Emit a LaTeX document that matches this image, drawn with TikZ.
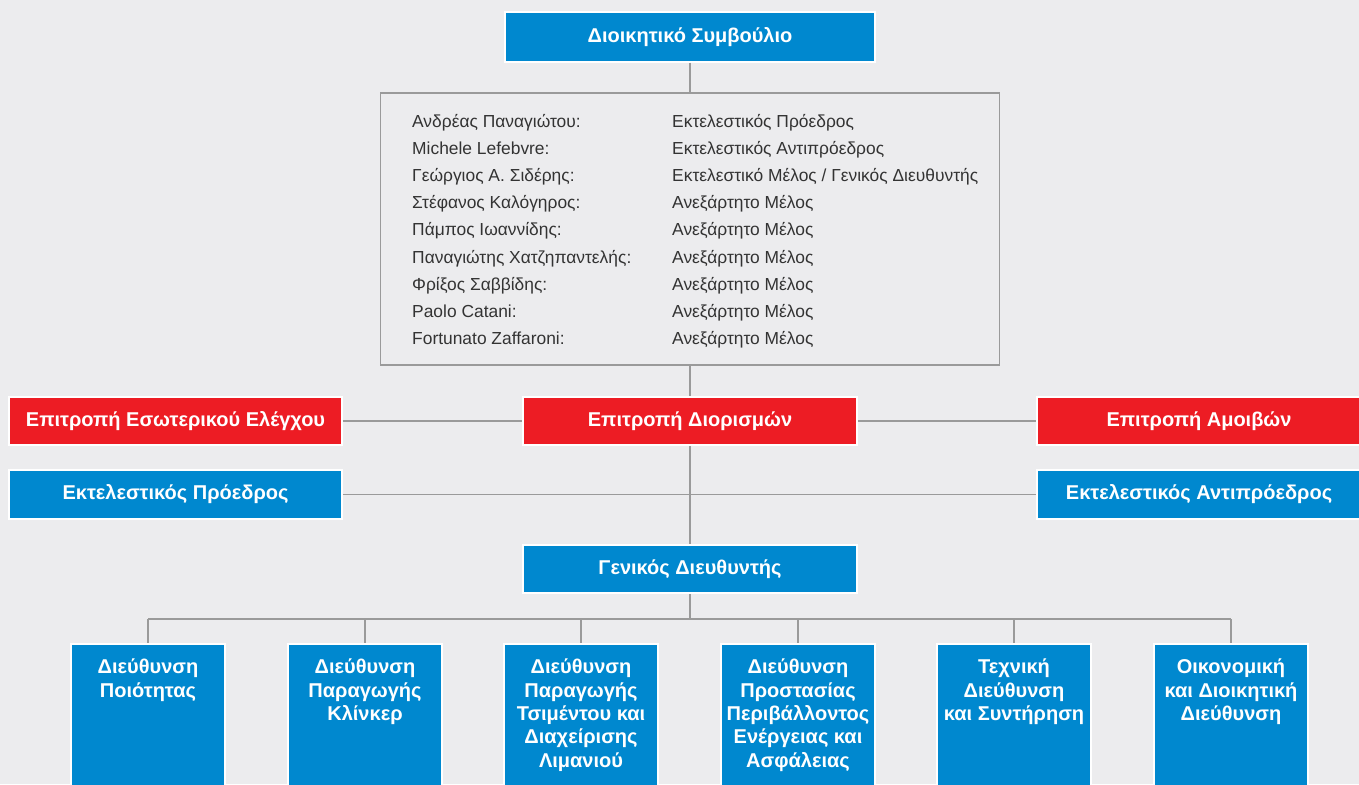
\documentclass[tikz,border=0pt]{standalone}
\usepackage{fontspec}
\setmainfont{Liberation Sans}
\definecolor{bgc}{HTML}{ECECEE}
\definecolor{blu}{HTML}{0088CF}
\definecolor{rd}{HTML}{ED1C24}
\definecolor{ln}{HTML}{9A9A9A}
\tikzset{
  box/.style={draw=white, line width=1.5pt, inner sep=0pt, text=white,
    font=\fontsize{20}{23.3}\selectfont\bfseries, align=center},
  bluebox/.style={box, fill=blu},
  redbox/.style={box, fill=rd},
  conn/.style={draw=ln, line width=1.6pt},
  member/.style={inner sep=0pt, font=\fontsize{17.4}{20}\selectfont, text=black!80},
  btext/.style={inner sep=0pt, text=white, font=\fontsize{20}{23.3}\selectfont\bfseries, align=center, anchor=north}
}
\begin{document}
\begin{tikzpicture}[x=1pt,y=-1pt]
\fill[bgc] (0,0) rectangle (1359,784);
\useasboundingbox (0,0) rectangle (1359,784);
\clip (0,0) rectangle (1359,784);

\node[bluebox, minimum width=370, minimum height=50] (top) at (690,37) {Διοικητικό Συμβούλιο};
\node[draw=ln, line width=1.6pt, minimum width=619, minimum height=272, inner sep=0pt] (members) at (690,229) {};

\foreach \i/\l/\r in {0/{Ανδρέας Παναγιώτου:}/{Εκτελεστικός Πρόεδρος},
  1/{Michele Lefebvre:}/{Εκτελεστικός Αντιπρόεδρος},
  2/{Γεώργιος Α. Σιδέρης:}/{Εκτελεστικό Μέλος / Γενικός Διευθυντής},
  3/{Στέφανος Καλόγηρος:}/{Ανεξάρτητο Μέλος},
  4/{Πάμπος Ιωαννίδης:}/{Ανεξάρτητο Μέλος},
  5/{Παναγιώτης Χατζηπαντελής:}/{Ανεξάρτητο Μέλος},
  6/{Φρίξος Σαββίδης:}/{Ανεξάρτητο Μέλος},
  7/{Paolo Catani:}/{Ανεξάρτητο Μέλος},
  8/{Fortunato Zaffaroni:}/{Ανεξάρτητο Μέλος}}{
  \node[member, anchor=base west] (ml\i) at (412,127+27.2*\i) {\l};
  \node[member, anchor=base west] (mr\i) at (672,127+27.2*\i) {\r};
}

\node[redbox, minimum width=333, minimum height=48] (rl) at (175.5,421) {Επιτροπή Εσωτερικού Ελέγχου};
\node[redbox, minimum width=334, minimum height=48] (rc) at (690,421) {Επιτροπή Διορισμών};
\node[redbox, minimum width=324, minimum height=48] (rr) at (1199,421) {Επιτροπή Αμοιβών};

\node[bluebox, minimum width=333, minimum height=49] (bl) at (175.5,494.5) {Εκτελεστικός Πρόεδρος};
\node[bluebox, minimum width=324, minimum height=49] (br) at (1199,494.5) {Εκτελεστικός Αντιπρόεδρος};

\node[bluebox, minimum width=334, minimum height=48] (gd) at (690,569) {Γενικός Διευθυντής};

\coordinate (bus) at (690,619);

\foreach \n/\x/\t in {1/148/{Διεύθυνση\\Ποιότητας},
  2/365/{Διεύθυνση\\Παραγωγής\\Κλίνκερ},
  3/581/{Διεύθυνση\\Παραγωγής\\Τσιμέντου και\\Διαχείρισης\\Λιμανιού},
  4/798/{Διεύθυνση\\Προστασίας\\Περιβάλλοντος\\Ενέργειας και\\Ασφάλειας},
  5/1014/{Τεχνική\\Διεύθυνση\\και Συντήρηση},
  6/1231/{Οικονομική\\και Διοικητική\\Διεύθυνση}}{
  \node[bluebox, minimum width=154, minimum height=160, anchor=north] (d\n) at (\x,643) {};
  \node[btext] (t\n) at ([yshift=-16]d\n.north) {\t};
}

\draw[conn] (top.south) -- (members.north);
\draw[conn] (members.south) -- (rc.north);
\draw[conn] (rl.east) -- (rc.west);
\draw[conn] (rc.east) -- (rr.west);
\draw[conn] (rc.south) -- (gd.north);
\draw[conn] (bl.east) -- (br.west);
\draw[conn] (gd.south) -- (bus);
\draw[conn] (d1.north |- bus) -- (d6.north |- bus);
\foreach \n in {1,...,6}{
  \draw[conn] (d\n.north |- bus) -- (d\n.north);
}
\end{tikzpicture}
\end{document}
